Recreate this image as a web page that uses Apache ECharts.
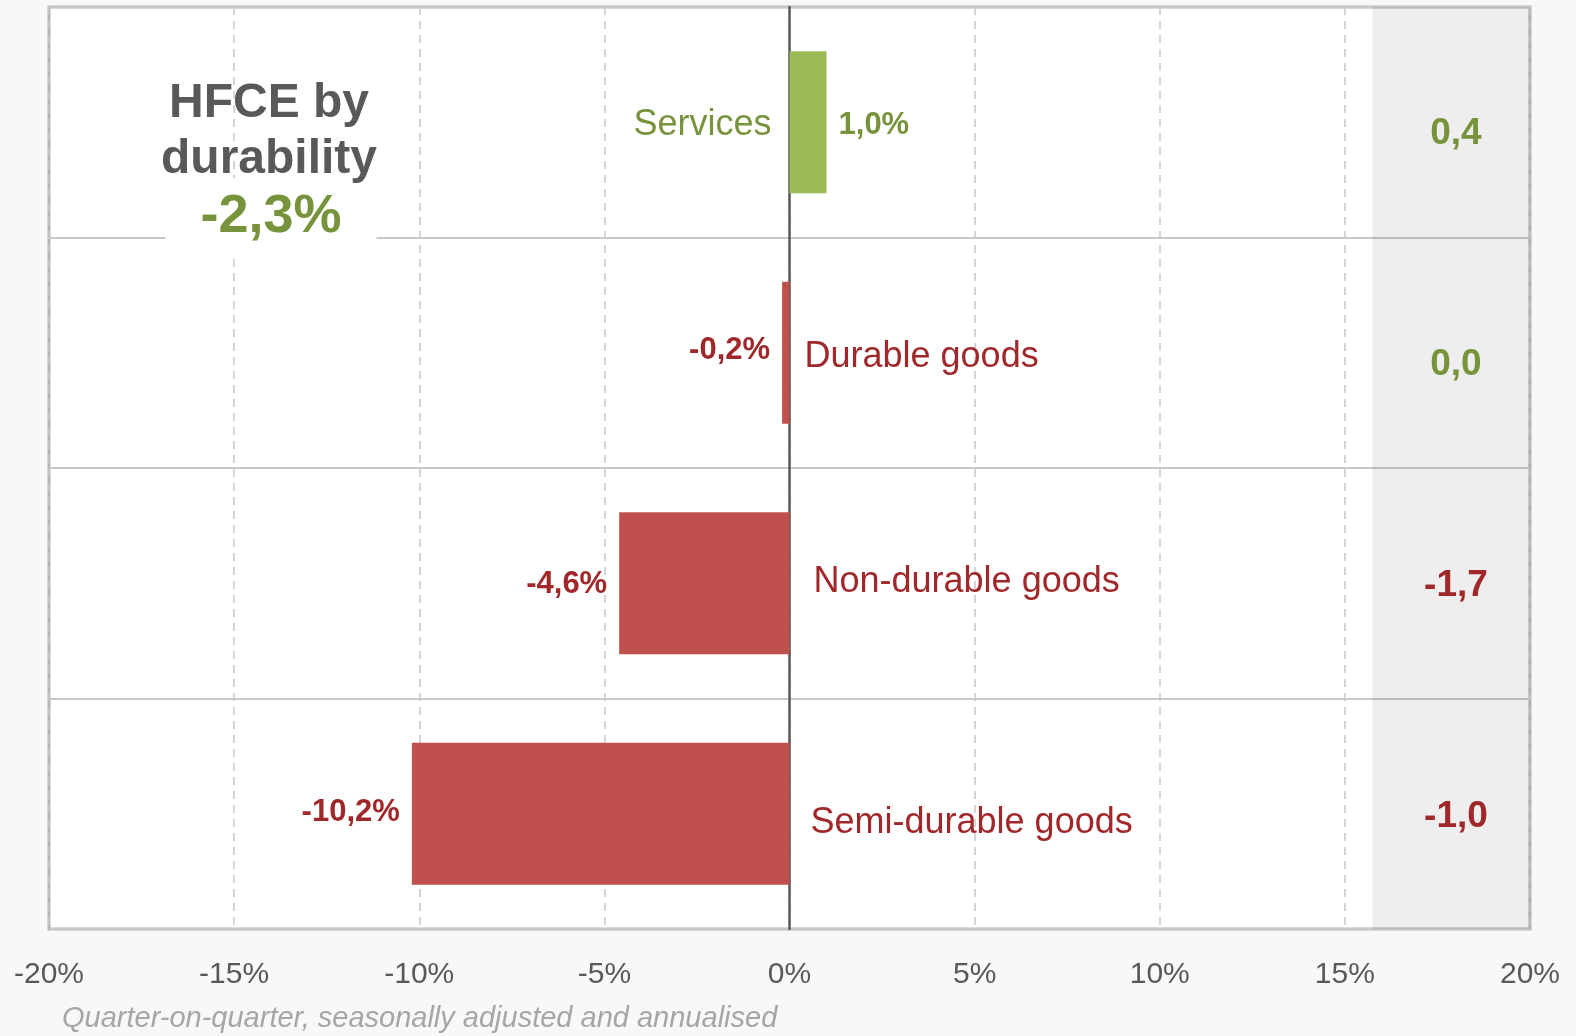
<!DOCTYPE html>
<html>
<head>
<meta charset="utf-8">
<script src="https://cdn.jsdelivr.net/npm/echarts@6/dist/echarts.min.js"></script>
<style>
  html, body { margin: 0; padding: 0; background: #f8f8f8; }
  #main { width: 1576px; height: 1036px; }
</style>
</head>
<body>
<div id="main"></div>
<script>
// data
const categories = ['Services', 'Durable goods', 'Non-durable goods', 'Semi-durable goods']
const growth = [1.0, -0.2, -4.6, -10.2]          // q-o-q saar, %
const contribution = [0.4, 0.0, -1.7, -1.0]      // right column
const xTicks = [-20, 20, 5]                      // min, max, step
const headline = '-2,3%'

// small label nudges per row (layout only)
const valueDy = [3, -2, 1, -1]
const catDy = [3, 4, -1, 9]
const catGap = [18, 15, 24, 21]
const contribDy = [12, 12, 3, 3]

const GREEN = '#9bbb59', GREEN_TXT = '#77933c'
const RED = '#c0504d', RED_TXT = '#a0282b'
const fmt = v => v.toFixed(1).replace('.', ',')

const chart = echarts.init(document.getElementById('main'))

const option = {
  backgroundColor: '#f8f8f8',
  animation: false,
  textStyle: { fontFamily: 'Liberation Sans, Arial, sans-serif' },
  grid: {
    left: 49, right: 46, top: 7, bottom: 107,
    show: true, backgroundColor: '#fff', borderColor: '#b4b4b4', borderWidth: 3,
  },
  xAxis: {
    type: 'value',
    min: xTicks[0], max: xTicks[1], interval: xTicks[2],
    axisLine: { show: false },
    axisTick: { show: false },
    axisLabel: { formatter: v => v + '%', fontSize: 30, color: '#595959', margin: 31 },
    splitLine: { show: true, lineStyle: { color: '#c8c8c8', width: 1.5, type: [8, 6] } },
  },
  yAxis: {
    type: 'category',
    data: categories,
    inverse: true,
    axisLine: { show: true, onZero: true, lineStyle: { color: '#595959', width: 2.5 } },
    axisTick: { show: false },
    axisLabel: { show: false },
    splitLine: { show: true, lineStyle: { color: '#c8c8c8', width: 2 } },
  },
  graphic: [
    {
      type: 'text', x: 271, y: 217, z: 99,
      style: {
        text: headline, align: 'center', verticalAlign: 'middle',
        font: 'bold 54px "Liberation Sans", Arial, sans-serif', fill: GREEN_TXT,
        backgroundColor: '#fff', padding: [12, 35, 12, 35],
      },
    },
    {
      type: 'text', x: 269, y: 76, z: 100,
      style: {
        text: 'HFCE by\ndurability', align: 'center', verticalAlign: 'top',
        font: 'bold 48px "Liberation Sans", Arial, sans-serif', fill: '#595959', lineHeight: 56,
      },
    },
    {
      type: 'text', left: 62, top: 1004,
      style: {
        text: 'Quarter-on-quarter, seasonally adjusted and annualised',
        font: 'italic 29px "Liberation Sans", Arial, sans-serif', fill: '#a6a6a6',
      },
    },
  ],
  series: [
    {
      type: 'bar',
      barWidth: 142,
      data: growth.map((v, i) => ({
        value: v,
        itemStyle: { color: v >= 0 ? GREEN : RED },
        label: {
          show: true,
          position: v >= 0 ? 'right' : 'left',
          distance: 12,
          offset: [0, valueDy[i]],
          formatter: fmt(v) + '%',
          fontSize: 31, fontWeight: 'bold',
          color: v >= 0 ? GREEN_TXT : RED_TXT,
        },
      })),
      markArea: {
        silent: true,
        itemStyle: { color: 'rgba(0,0,0,0.065)' },
        data: [[{ xAxis: 15.75 }, { xAxis: 20 }]],
      },
    },
    {
      // category names next to the zero line, opposite side of the bar
      type: 'scatter',
      symbolSize: 0,
      itemStyle: { opacity: 1 },
      data: categories.map((c, i) => ({
        name: c,
        value: [0, c],
        label: {
          show: true,
          position: growth[i] >= 0 ? 'left' : 'right',
          distance: catGap[i],
          offset: [0, catDy[i]],
          formatter: '{b}',
          fontSize: 36,
          opacity: 1,
          color: growth[i] >= 0 ? GREEN_TXT : RED_TXT,
        },
      })),
    },
    {
      // contribution column in the shaded band
      type: 'scatter',
      symbolSize: 0,
      itemStyle: { opacity: 1 },
      data: contribution.map((v, i) => ({
        value: [18, categories[i]],
        label: {
          show: true,
          position: 'inside',
          offset: [0, contribDy[i]],
          formatter: fmt(v),
          fontSize: 37, fontWeight: 'bold',
          opacity: 1,
          color: v >= 0 ? GREEN_TXT : RED_TXT,
        },
      })),
    },
  ],
}

chart.setOption(option)
</script>
</body>
</html>
